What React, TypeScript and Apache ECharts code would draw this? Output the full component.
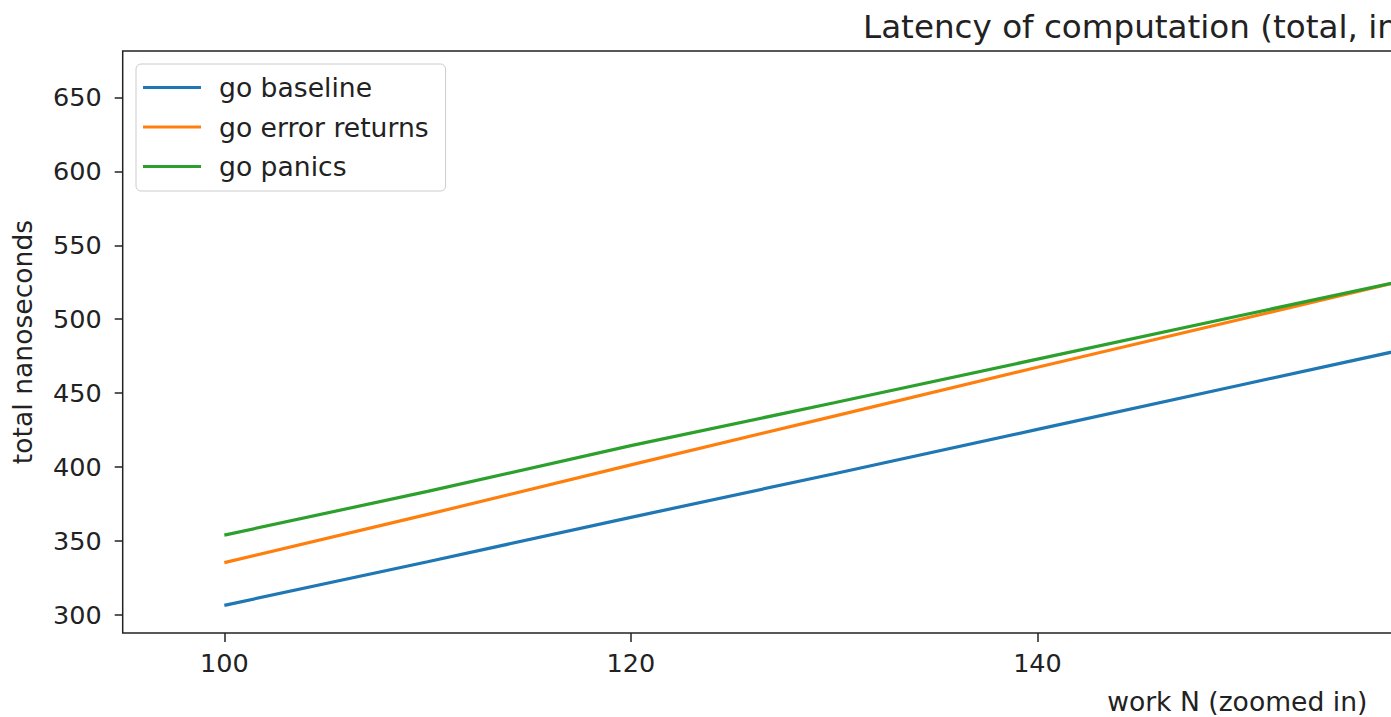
import React, { useEffect, useRef } from "react";
import * as echarts from "echarts";

const workN = [100, 110, 120, 130, 140, 150, 160, 170, 180, 190, 200];
const goBaseline = [306.5, 336, 366, 395.5, 425.5, 455.5, 485.5, 515.5, 546, 576, 606];
const goErrorReturns = [335.4, 368, 401.5, 434.5, 467.5, 500, 532.5, 565, 598, 630.5, 663];
const goPanics = [354, 383.6, 414.5, 443.5, 473, 502.5, 532, 561.5, 591, 621, 650.5];
const xTicks = [100, 120, 140, 160, 180, 200];
const yTicks = [300, 350, 400, 450, 500, 550, 600, 650];
const seriesNames = ["go baseline", "go error returns", "go panics"];
const colors = ["#1f77b4", "#ff7f0e", "#2ca02c"];

const FONT = "DejaVu Sans";
const TXT = "#222";

export default function App() {
  const ref = useRef<HTMLDivElement>(null);
  useEffect(() => {
    if (!ref.current) return;
    const chart = echarts.init(ref.current, null, { renderer: "svg" });
    const chartW = 2500;
    const gridLeft = 122.7;
    const gridRight = chartW - 2358.8;
    const values = [goBaseline, goErrorReturns, goPanics];
    chart.setOption({
      animation: false,
      backgroundColor: "#fff",
      textStyle: { fontFamily: FONT, color: TXT },
      grid: {
        left: gridLeft,
        top: 51,
        right: gridRight,
        bottom: 84,
        show: true,
        borderColor: TXT,
        borderWidth: 1.5,
        backgroundColor: "transparent",
        containLabel: false,
        outerBoundsMode: "none",
      },
      graphic: [
        {
          type: "text",
          x: 863,
          y: 27,
          style: {
            text: "Latency of computation (total, in nanoseconds)",
            fontFamily: FONT,
            fontSize: 32.6,
            fill: TXT,
            textAlign: "left",
            textVerticalAlign: "middle",
          },
        },
      ],
      legend: {
        orient: "vertical",
        left: 136,
        top: 64,
        data: seriesNames.map((n) => ({ name: n, icon: "rect" })),
        itemWidth: 58,
        itemHeight: 3.2,
        itemGap: 12.5,
        padding: [10, 17, 11, 7],
        borderColor: "#cccccc",
        borderWidth: 1,
        borderRadius: 5,
        backgroundColor: "rgba(255,255,255,0.8)",
        textStyle: { fontFamily: FONT, fontSize: 26.6, color: TXT, padding: [0, 0, 0, 13] },
      },
      xAxis: {
        type: "value",
        min: 95,
        max: 205,
        name: "work N (zoomed in)",
        nameLocation: "middle",
        nameGap: 55,
        nameTextStyle: { fontFamily: FONT, fontSize: 26.6, color: TXT, padding: [0, 7, 0, 0] },
        axisLine: { show: false },
        axisTick: {
          show: true,
          length: 9,
          customValues: xTicks,
          lineStyle: { color: TXT, width: 1.5 },
        },
        axisLabel: {
          customValues: xTicks,
          margin: 17,
          fontFamily: FONT,
          fontSize: 25.5,
          color: TXT,
        },
        splitLine: { show: false },
      },
      yAxis: {
        type: "value",
        min: 287.8,
        max: 681.4,
        name: "total nanoseconds",
        nameLocation: "middle",
        nameGap: 87,
        nameRotate: 90,
        nameTextStyle: { fontFamily: FONT, fontSize: 26.6, color: TXT },
        axisLine: { show: false },
        axisTick: {
          show: true,
          length: 8,
          customValues: yTicks,
          lineStyle: { color: TXT, width: 1.5 },
        },
        axisLabel: {
          customValues: yTicks,
          margin: 21,
          fontFamily: FONT,
          fontSize: 25.5,
          color: TXT,
        },
        splitLine: { show: false },
      },
      series: seriesNames.map((name, i) => ({
        name,
        type: "line",
        showSymbol: false,
        symbol: "none",
        color: colors[i],
        itemStyle: { color: colors[i] },
        lineStyle: { color: colors[i], width: 3.2 },
        data: workN.map((x, j) => [x, values[i][j]]),
      })),
    });
    return () => chart.dispose();
  }, []);
  return (
    <div
      style={{
        position: "fixed",
        left: 0,
        top: 0,
        width: 1391,
        height: 717,
        overflow: "hidden",
        background: "#fff",
      }}
    >
      <div ref={ref} style={{ width: 2500, height: 717 }} />
    </div>
  );
}
